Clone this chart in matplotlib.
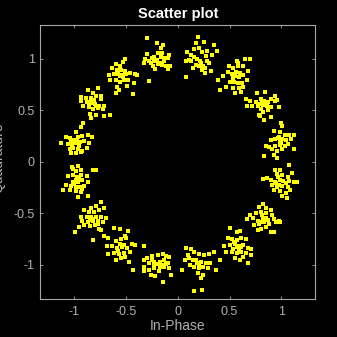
import matplotlib
matplotlib.use("Agg")
import matplotlib.pyplot as plt
import numpy as np

# cluster centres (16 groups on the unit circle)
center_i = [0.98, 0.83, 0.56, 0.195, -0.195, -0.56, -0.83, -0.98,
            -0.98, -0.83, -0.56, -0.195, 0.195, 0.56, 0.83, 0.98]
center_q = [0.195, 0.56, 0.83, 0.98, 0.98, 0.83, 0.56, 0.195,
            -0.195, -0.56, -0.83, -0.98, -0.98, -0.83, -0.56, -0.195]

# point offsets from each centre, in hundredths
pts_011 = [(2, 18), (3, 15), (1, 10), (-5, 11), (0, 5), (5, 7), (9, 7), (14, 7), (-8, 2),
           (-4, 3), (1, 1), (6, 2), (11, 3), (-4, -4), (1, -3), (5, -4), (8, -2), (-13, -4),
           (-10, -5), (-7, -7), (-2, -9), (3, -7), (-15, -14), (-5, -13), (14, -7), (9, -22),
           (-2, -16), (2, -1), (-1, 4), (3, 3)]
pts_034 = [(-7, 11), (1, 12), (11, 8), (-17, 5), (-13, 3), (-8, 2), (-3, 5), (0, 3), (4, 2),
           (7, 5), (11, 3), (13, 4), (-16, -2), (-11, -2), (-6, -2), (-1, -1), (3, -2), (7, -3),
           (15, -3), (-5, -10), (-1, -8), (4, -6), (-4, -11), (0, -15), (7, -12), (-3, -5),
           (-2, 1), (2, 0), (-5, 0)]
pts_056 = [(1, 15), (2, 13), (9, 17), (14, 17), (-7, 10), (-3, 8), (2, 10), (7, 10), (12, 5),
           (-12, 0), (-8, 4), (-4, 2), (-1, 0), (3, -1), (7, 1), (11, -3), (-17, -3), (-6, -5),
           (-2, -5), (2, -6), (6, -6), (-9, -10), (-3, -11), (3, -11), (7, -10), (-15, -13),
           (-1, -16), (5, -15), (0, 4), (4, 3), (-3, -2)]
pts_079 = [(0, 23), (-2, 17), (6, 18), (15, 16), (18, 10), (-11, 9), (-4, 12), (1, 13), (4, 9),
           (9, 10), (-7, 6), (-4, 4), (-1, 2), (2, 0), (3, -2), (5, -5), (7, -7), (9, 0),
           (11, -2), (13, -10), (7, -12), (4, -9), (-12, 0), (-7, 0), (-5, -7), (-12, -16),
           (-9, 1), (-2, -4), (1, -5), (14, 6), (8, 5)]
pts_101 = [(-10, 22), (-1, 17), (5, 16), (3, 13), (0, 8), (4, 8), (-10, 7), (-12, 2), (-8, 0),
           (-5, 3), (-3, 0), (-1, 1), (2, -2), (4, -4), (6, 0), (8, -5), (10, -8), (-4, -5),
           (-2, -8), (-8, -19), (-13, -2), (11, 6), (10, 3), (12, -5), (-6, -2), (3, 4),
           (0, -3), (-3, 4), (6, 3)]
pts_124 = [(5, 17), (3, 14), (-4, 12), (0, 10), (-7, 8), (-3, 6), (1, 6), (5, 5), (-10, 1),
           (-6, 2), (-2, 2), (2, 1), (6, 2), (10, 3), (15, 2), (17, 1), (-9, -3), (-4, -3),
           (0, -5), (4, -3), (8, -3), (-3, -10), (-1, -13), (-4, -16), (13, -17), (14, -6),
           (7, -9), (0, 0), (3, -1), (-2, 4)]
pts_146 = [(-4, 14), (6, 16), (1, 11), (-10, 7), (-6, 6), (-1, 6), (4, 8), (9, 8), (-10, 3),
           (-5, 2), (-1, 2), (3, 0), (7, -2), (12, -2), (-3, -3), (1, -5), (6, -4), (11, -5),
           (-2, -9), (-1, -13), (4, -10), (12, -11), (18, -10), (-8, -2), (9, 5), (1, 1),
           (4, -2), (-3, 0), (2, 4)]
pts_169 = [(5, 14), (7, 18), (0, 10), (11, 7), (-10, 5), (-6, 4), (-2, 2), (2, 5), (6, 6),
           (15, 5), (-15, -1), (-8, -2), (-4, -3), (0, -1), (4, 0), (8, 1), (12, -1), (-6, -7),
           (-3, -6), (2, -7), (6, -9), (10, -6), (-5, -11), (0, -11), (5, -10), (1, 2),
           (-2, -1), (3, -4), (-5, 1)]
pts_191 = [(-3, 13), (0, 11), (5, 12), (16, 12), (19, 12), (-8, 6), (-3, 7), (1, 5), (5, 7),
           (10, 6), (-3, 0), (2, 0), (6, 2), (11, 0), (-10, -3), (-5, -4), (0, -5), (4, -5),
           (8, -4), (-13, -8), (-6, -8), (0, -9), (5, -10), (2, -15), (11, -14), (6, -7),
           (2, 16), (-4, 15), (0, 2), (-2, -2), (3, 3)]
pts_214 = [(9, 17), (4, 13), (-1, 11), (-7, 9), (-3, 7), (2, 7), (7, 9), (12, 11), (-10, 3),
           (-5, 3), (-1, 3), (4, 3), (9, 3), (14, 2), (-9, -1), (-4, -2), (1, -1), (6, -1),
           (11, -2), (-12, -7), (-7, -5), (-2, -6), (3, -5), (7, -9), (-16, -12), (1, -20),
           (9, -10), (6, -4), (1, 1), (-2, 0)]
pts_236 = [(-6, 19), (0, 18), (8, 16), (5, 11), (-11, 9), (-15, 11), (-4, 6), (1, 8), (6, 9),
           (12, 3), (15, 2), (23, 1), (-12, 1), (-7, 1), (-3, -1), (2, 0), (7, -1), (-11, -6),
           (-6, -5), (-1, -6), (4, -5), (10, -4), (-4, -12), (1, -10), (5, -9), (13, -22),
           (9, -14), (0, 3), (4, 2), (-2, -3)]
pts_259 = [(-13, 3), (-10, 5), (-5, 7), (0, 8), (5, 9), (8, 7), (-13, -4), (-8, 0), (-3, 1),
           (2, 1), (6, 3), (10, 0), (-13, -8), (-8, -7), (-3, -5), (2, -4), (6, -4), (11, -5),
           (-6, -12), (-2, -13), (5, -19), (1, -8), (-3, -2), (11, 6), (13, -12), (0, -1),
           (4, -2), (-5, 3), (8, -1)]
pts_281 = [(-12, 14), (-7, 13), (-4, 11), (1, 9), (6, 8), (11, 9), (15, 11), (-13, 3), (-9, 5),
           (-5, 3), (-1, 0), (3, 1), (8, 0), (12, 0), (21, 3), (-15, -7), (-8, -2), (-4, -4),
           (1, -5), (5, -4), (10, -5), (17, -7), (0, -10), (5, -12), (3, -15), (-4, -27),
           (4, -26), (-10, 8), (-2, 3), (1, -2)]
pts_304 = [(-6, 19), (1, 15), (4, 16), (-8, 9), (-4, 8), (1, 7), (5, 9), (10, 8), (-11, 1),
           (-6, 2), (-1, 3), (3, 1), (7, 2), (12, -1), (15, -2), (-9, -4), (-4, -4), (1, -5),
           (5, -4), (10, -5), (15, -7), (-1, -10), (4, -12), (12, -15), (7, -9), (-3, -2),
           (1, 0), (5, 0), (-2, 5), (3, -2)]
pts_326 = [(-1, 15), (-5, 12), (2, 11), (7, 9), (-13, 4), (-8, 6), (-3, 7), (2, 6), (8, 4),
           (-16, 1), (-10, 2), (-6, -1), (-1, 1), (4, 0), (10, 1), (15, -1), (-9, -5), (-5, -4),
           (0, -2), (5, -4), (12, -2), (-3, -9), (2, -7), (7, -12), (10, -12), (16, -2),
           (-6, -10), (-2, 4), (2, 2), (-3, -2)]
pts_349 = [(-4, 12), (1, 12), (-2, 8), (3, 7), (8, 5), (12, 9), (17, 0), (14, 0), (-12, 4),
           (-16, 3), (-8, 2), (-4, 0), (1, 2), (6, -1), (9, 1), (-7, -3), (-2, -5), (3, -4),
           (8, -5), (10, -8), (-5, -8), (1, -9), (6, -11), (7, -16), (3, -14), (0, -3),
           (-1, 5), (4, 1), (-3, -1)]

clusters = [pts_011, pts_034, pts_056, pts_079, pts_101, pts_124, pts_146, pts_169,
            pts_191, pts_214, pts_236, pts_259, pts_281, pts_304, pts_326, pts_349]

in_phase = []
quadrature = []
for ci, cq, pts in zip(center_i, center_q, clusters):
    for dx, dy in pts:
        in_phase.append(ci + dx / 100)
        quadrature.append(cq + dy / 100)

ticks = [-1, -0.5, 0, 0.5, 1]
tick_labels = ['-1', '-0.5', '0', '0.5', '1']

plt.rcParams['font.family'] = ['Liberation Sans', 'DejaVu Sans']

fig = plt.figure(figsize=(3.37, 3.37), dpi=100, facecolor='black')
ax = fig.add_axes([0.12, 0.113, 0.815, 0.813], facecolor='black')

ax.plot(in_phase, quadrature, 's', color='#ffff00', markersize=2.3, markeredgewidth=0,
        antialiased=False)

ax.set_xlim(-1.325, 1.325)
ax.set_ylim(-1.33, 1.33)
ax.set_xticks(ticks)
ax.set_xticklabels(tick_labels)
ax.set_yticks(ticks)
ax.set_yticklabels(tick_labels)

gray = '#b0b0b0'
for side in ax.spines.values():
    side.set_color('#a8a8a8')
    side.set_linewidth(0.8)
ax.tick_params(direction='in', length=2.3, width=0.6, colors='#a8a8a8',
               labelcolor=gray, labelsize=9, top=True, right=True)
ax.tick_params(axis='x', pad=5)
ax.tick_params(axis='y', pad=4)

ax.set_title('Scatter plot', color='white', fontsize=10.5, fontweight='bold', pad=5)
ax.set_xlabel('In-Phase', color=gray, fontsize=10)
ax.set_ylabel('Quadrature', color=gray, fontsize=10)
ax.xaxis.set_label_coords(0.5, -0.075)
ax.yaxis.set_label_coords(-0.128, 0.515)

fig.savefig('out.png', dpi=100, facecolor='black')
